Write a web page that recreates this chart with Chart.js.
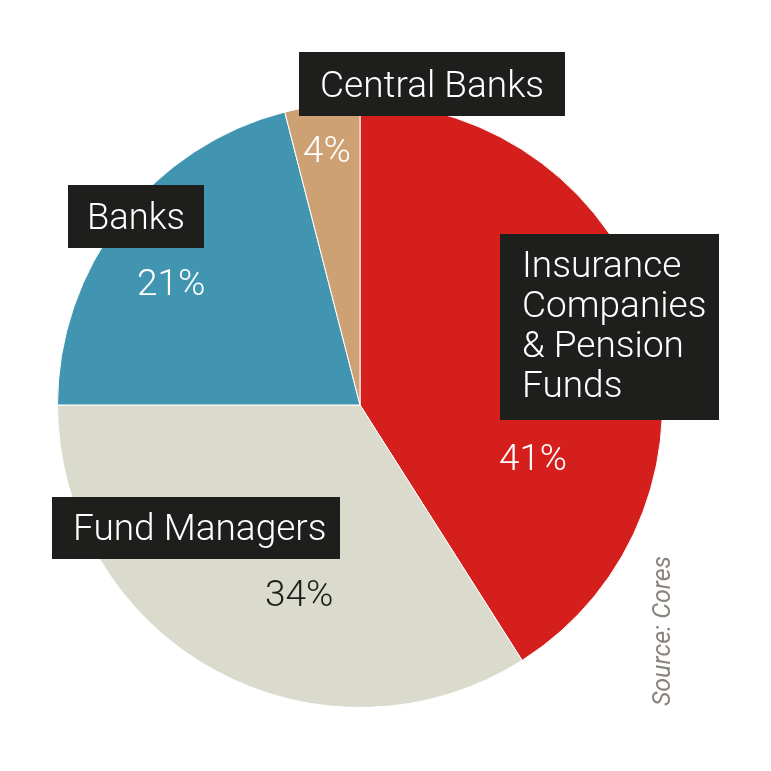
<!DOCTYPE html>
<html>
<head>
<meta charset="utf-8">
<script src="https://cdn.jsdelivr.net/npm/chart.js@4/dist/chart.umd.min.js"></script>
<style>
  html, body { margin: 0; padding: 0; background: #fff; }
  canvas { display: block; }
</style>
</head>
<body>
<canvas id="myChart" width="771" height="771"></canvas>
<script>
// data
const categories = ["Insurance Companies & Pension Funds", "Fund Managers", "Banks", "Central Banks"];
const shares = [41, 34, 21, 4];
const sliceColors = ["#D41F1C", "#DADACD", "#4195B1", "#CDA173"];
const sourceNote = "Source: Cores";

// label boxes: lines of text, box rect, text x/baselines, max text width
const labelLayout = [
  {lines: ["Insurance", "Companies", "& Pension", "Funds"], box: [500, 234, 219, 186], x: 522, y: [277, 317, 357, 397], w: 185,
   pct: {x: 499, y: 470, w: 68, color: "#fff"}},
  {lines: ["Fund Managers"], box: [52, 497, 288, 62], x: 73, y: [540], w: 254,
   pct: {x: 265, y: 606, w: 74, color: "#1e1e1c"}},
  {lines: ["Banks"], box: [68, 185, 136, 63], x: 87, y: [229], w: 98,
   pct: {x: 137, y: 295, w: 70, color: "#fff"}},
  {lines: ["Central Banks"], box: [299, 52, 266, 64], x: 320, y: [97], w: 229,
   pct: {x: 303, y: 162, w: 52, color: "#fff"}}
];

const FONT = "Roboto, 'Noto Sans', sans-serif";

const labelsPlugin = {
  id: "boxLabels",
  afterDraw(chart) {
    const ctx = chart.ctx;
    ctx.save();
    ctx.textAlign = "left";
    ctx.textBaseline = "alphabetic";
    labelLayout.forEach((l, i) => {
      ctx.fillStyle = "#1E1E1C";
      ctx.fillRect(l.box[0], l.box[1], l.box[2], l.box[3]);
      ctx.fillStyle = "#fff";
      ctx.font = "300 37px " + FONT;
      l.lines.forEach((t, j) => ctx.fillText(t, l.x, l.y[j], l.w));
      ctx.fillStyle = l.pct.color;
      ctx.fillText(shares[i] + "%", l.pct.x, l.pct.y, l.pct.w);
    });
    // source note, rotated
    ctx.translate(670, 631);
    ctx.rotate(-Math.PI / 2);
    ctx.textAlign = "center";
    ctx.fillStyle = "#8A847E";
    ctx.font = "italic 25px " + FONT;
    ctx.fillText(sourceNote, 0, 0, 152);
    ctx.restore();
  }
};

new Chart(document.getElementById("myChart"), {
  type: "pie",
  data: {
    labels: categories,
    datasets: [{
      data: shares,
      backgroundColor: sliceColors,
      borderColor: "#ffffff",
      borderWidth: 1
    }]
  },
  options: {
    responsive: false,
    animation: false,
    layout: {padding: {left: 57, right: 108, top: 102, bottom: 63}},
    plugins: {
      legend: {display: false},
      tooltip: {enabled: false}
    }
  },
  plugins: [labelsPlugin]
});
</script>
</body>
</html>
